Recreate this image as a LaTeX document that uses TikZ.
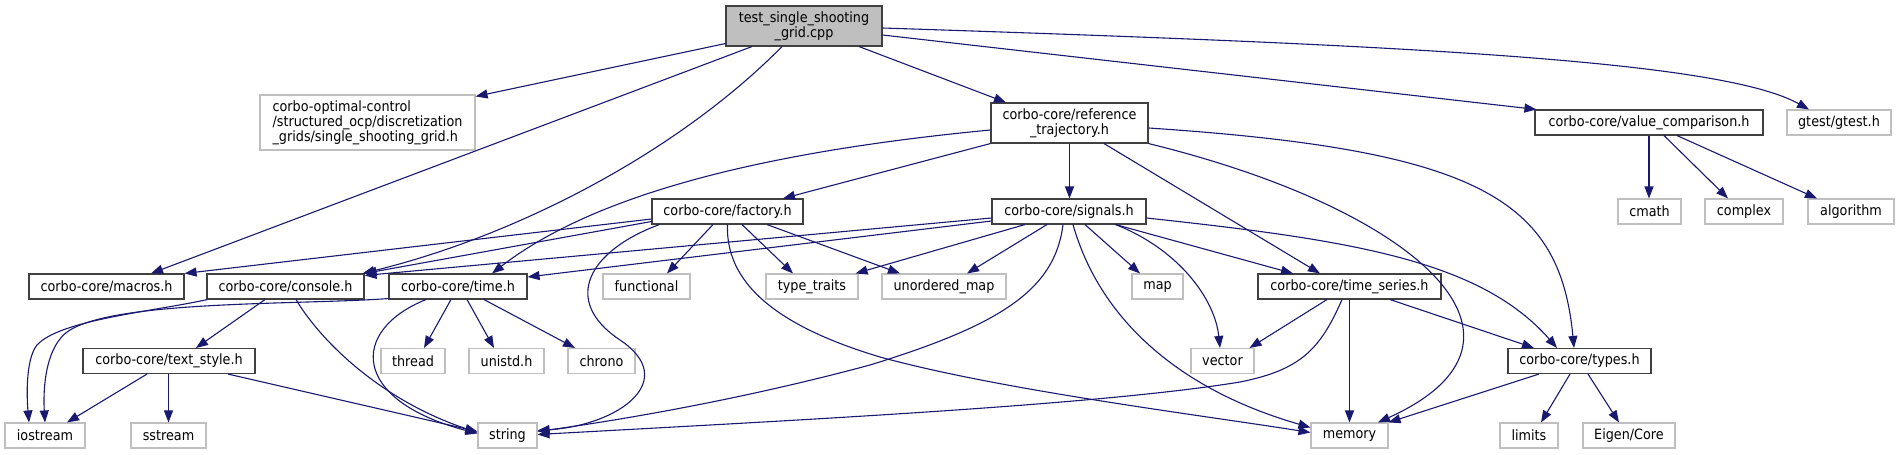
\documentclass[tikz,border=0pt]{standalone}
\usepackage{fontspec}
\setmainfont{DejaVu Sans}[FakeStretch=0.9]
\usetikzlibrary{arrows.meta,calc}
\definecolor{edgeblue}{HTML}{191970}
\definecolor{boxgray}{HTML}{BFBFBF}
\definecolor{boxdark}{HTML}{404040}
\begin{document}
\begin{tikzpicture}[x=1pt,y=-1pt,
  box/.style={draw, line width=1.1pt, fill=white, inner sep=0pt, minimum height=25pt,
    font=\fontsize{14.2}{15}\selectfont, text=black, align=center},
  proj/.style={box, draw=boxdark},
  ext/.style={box, draw=boxgray},
  root/.style={box, draw=boxdark, fill=boxgray},
  edge/.style={draw=edgeblue, line width=1.1pt, -{Triangle[length=12pt,width=9pt]}},
]
\fill[white] (0,0) rectangle (1899,455);
\useasboundingbox (0,0) rectangle (1899,455);

% nodes
\node[root, minimum width=156pt, minimum height=40pt] (test) at (804,26) {test\_single\_shooting\\\_grid.cpp};
\node[ext, minimum width=215pt, minimum height=55pt, align=left] (optctl) at (367.5,122.5) {corbo-optimal-control\\/structured\_ocp/discretization\\\_grids/single\_shooting\_grid.h};
\node[proj, minimum width=157pt, minimum height=40pt] (ref) at (1069.5,123) {corbo-core/reference\\\_trajectory.h};
\node[proj, minimum width=228pt] (value) at (1649,122.5) {corbo-core/value\_comparison.h};
\node[ext, minimum width=104pt] (gtest) at (1839,122.5) {gtest/gtest.h};

\node[proj, minimum width=151pt] (factory) at (727.5,211.5) {corbo-core/factory.h};
\node[proj, minimum width=154pt] (signals) at (1069,211.5) {corbo-core/signals.h};
\node[ext, minimum width=63pt] (cmath) at (1649.5,211.5) {cmath};
\node[ext, minimum width=78pt] (complex) at (1744,211.5) {complex};
\node[ext, minimum width=86pt] (algorithm) at (1851,211.5) {algorithm};

\node[proj, minimum width=155pt] (macros) at (106.5,286.5) {corbo-core/macros.h};
\node[proj, minimum width=157pt] (console) at (285.5,286.5) {corbo-core/console.h};
\node[proj, minimum width=138pt] (time) at (458,286.5) {corbo-core/time.h};
\node[ext, minimum width=87pt] (functional) at (646.5,286.5) {functional};
\node[ext, minimum width=92pt] (typetraits) at (812,286.5) {type\_traits};
\node[ext, minimum width=124pt] (umap) at (944,286.5) {unordered\_map};
\node[ext, minimum width=51pt] (map) at (1157.5,286.5) {map};
\node[proj, minimum width=183pt] (tseries) at (1349.5,286.5) {corbo-core/time\_series.h};

\node[proj, minimum width=172pt] (textstyle) at (169,361) {corbo-core/text\_style.h};
\node[ext, minimum width=64pt] (thread) at (413,361) {thread};
\node[ext, minimum width=75pt] (unistd) at (506.5,361) {unistd.h};
\node[ext, minimum width=67pt] (chrono) at (601.5,361) {chrono};
\node[ext, minimum width=63pt] (vector) at (1222.5,361) {vector};
\node[proj, minimum width=143pt] (types) at (1579.5,361) {corbo-core/types.h};

\node[ext, minimum width=80pt] (iostream) at (45,435.5) {iostream};
\node[ext, minimum width=75pt] (sstream) at (168.5,435.5) {sstream};
\node[ext, minimum width=59pt] (string) at (507.5,435.5) {string};
\node[ext, minimum width=77pt] (memory) at (1349.5,435.5) {memory};
\node[ext, minimum width=58pt] (limits) at (1529,435.5) {limits};
\node[ext, minimum width=92pt] (eigen) at (1629,435.5) {Eigen/Core};

% edges from test
\draw[edge] ($(test.south west)+(0,-3)$) -- ($(optctl.north east)+(0,2)$);
\draw[edge] ($(test.south)+(-52,0)$) -- ($(macros.north)+(44.5,0)$);
\draw[edge] ($(test.south)+(-22,0)$) .. controls (680,150) and (520,235) .. ($(console.north east)+(-2,0)$);
\draw[edge] ($(test.south)+(55,0)$) -- ($(ref.north)+(-63.5,0)$);
\draw[edge] ($(test.east)+(0,9)$) -- ($(value.north west)+(2,0)$);
\draw[edge] ($(test.east)+(0,2)$) .. controls (1400,45) and (1720,60) .. ($(gtest.north)+(-30,0)$);

% edges from reference_trajectory
\draw[edge] (ref.south west) -- ($(factory.north)+(55.5,0)$);
\draw[edge] (ref.south) -- (ref.south |- signals.north);
\draw[edge] ($(ref.west)+(0,7)$) .. controls (780,150) and (600,190) .. ($(time.north)+(34,0)$);
\draw[edge] ($(ref.south)+(34.5,0)$) -- ($(tseries.north)+(-29.5,0)$);
\draw[edge] ($(ref.east)+(0,5)$) .. controls (1480,150) and (1560,200) .. ($(types.north)+(-5.5,0)$);
\draw[edge] (ref.south east) .. controls (1420,210) and (1560,340) .. ($(memory.north)+(28.5,0)$);

% edges from factory
\draw[edge] ($(factory.west)+(0,7.5)$) -- (macros.north east);
\draw[edge] ($(factory.west)+(0,10)$) -- (console.north east);
\draw[edge] ($(factory.south)+(-14.5,0)$) -- ($(functional.north)+(20.5,0)$);
\draw[edge] ($(factory.south)+(14.5,0)$) -- ($(typetraits.north)+(-19,0)$);
\draw[edge] ($(factory.south)+(39.5,0)$) -- ($(umap.north)+(-44,0)$);
\draw[edge] ($(factory.south west)+(8,0)$) .. controls (590,250) and (560,300) .. (620,340) .. controls (680,380) and (620,425) .. ($(string.east)+(0,-5)$);
\draw[edge] (factory.south) .. controls (725,290) and (790,330) .. (880,357) .. controls (1000,390) and (1200,415) .. ($(memory.west)+(0,-3)$);

% edges from signals
\draw[edge] ($(signals.west)+(0,6.5)$) -- ($(console.north east)+(0,2)$);
\draw[edge] ($(signals.west)+(0,9.5)$) -- ($(time.east)+(0,-9.5)$);
\draw[edge] ($(signals.south)+(-44,0)$) -- ($(typetraits.north east)+(-3,0)$);
\draw[edge] ($(signals.south)+(-22,0)$) -- ($(umap.north)+(23,0)$);
\draw[edge] ($(signals.south)+(16,0)$) -- ($(map.north)+(-17.5,0)$);
\draw[edge] ($(signals.south)+(-6,0)$) .. controls (1055,290) and (1000,325) .. (870,365) .. controls (740,400) and (620,420) .. ($(string.east)+(0,-4)$);
\draw[edge] ($(signals.south)+(4,0)$) .. controls (1100,320) and (1180,390) .. ($(memory.west)+(0,-8)$);
\draw[edge] ($(signals.south east)+(-31,0)$) .. controls (1180,250) and (1215,300) .. ($(vector.north)+(-2.5,0)$);
\draw[edge] ($(signals.south east)+(-31,0)$) -- ($(tseries.north)+(-56.5,0)$);
\draw[edge] ($(signals.east)+(0,6.5)$) .. controls (1350,240) and (1480,260) .. ($(types.north)+(-22.5,0)$);

% edges from time_series
\draw[edge] ($(tseries.south)+(-22.5,0)$) -- ($(vector.north east)+(-5,0)$);
\draw[edge] ($(tseries.south)+(-7.5,0)$) .. controls (1320,350) and (1300,370) .. (1240,382) .. controls (1100,405) and (800,420) .. ($(string.east)+(0,-1)$);
\draw[edge] (tseries.south) -- (tseries.south |- memory.north);
\draw[edge] ($(tseries.south)+(40.5,0)$) -- ($(types.north)+(-45.5,0)$);

% edges from value_comparison
\draw[edge] (value.south) -- (value.south |- cmath.north);
\draw[edge] ($(value.south)+(15,0)$) -- ($(complex.north)+(-16,0)$);
\draw[edge] ($(value.south)+(28,0)$) -- ($(algorithm.north)+(-34,0)$);

% edges from types
\draw[edge] ($(types.south)+(-40.5,0)$) -- (memory.north east);
\draw[edge] ($(types.south)+(-9.5,0)$) -- ($(limits.north)+(12,0)$);
\draw[edge] ($(types.south)+(8.5,0)$) -- ($(eigen.north)+(-10,0)$);

% edges from console
\draw[edge] ($(console.south west)+(1,0)$) .. controls (150,312) and (60,320) .. (37,345) .. controls (25,360) and (27,400) .. ($(iostream.north)+(-16,0)$);
\draw[edge] ($(console.south)+(10.5,0)$) .. controls (320,340) and (380,400) .. ($(string.west)+(0,-3)$);
\draw[edge] ($(console.south)+(-20.5,0)$) -- ($(textstyle.north)+(27,0)$);

% edges from time
\draw[edge] ($(time.south west)+(0,-1)$) .. controls (300,305) and (120,300) .. (70,330) .. controls (45,345) and (43,390) .. (iostream.north);
\draw[edge] ($(time.south)+(-32,0)$) .. controls (350,330) and (350,400) .. ($(string.west)+(0,-2)$);
\draw[edge] ($(time.south)+(-7,0)$) -- ($(thread.north)+(11,0)$);
\draw[edge] ($(time.south)+(9,0)$) -- ($(unistd.north)+(-12.5,0)$);
\draw[edge] ($(time.south)+(26,0)$) -- ($(chrono.north)+(-26.5,0)$);

% edges from text_style
\draw[edge] ($(textstyle.south)+(-22,0)$) -- ($(iostream.north)+(22,0)$);
\draw[edge] (sstream.north |- textstyle.south) -- (sstream.north);
\draw[edge] ($(textstyle.south)+(59,0)$) -- ($(string.west)+(0,-4)$);
\end{tikzpicture}
\end{document}
